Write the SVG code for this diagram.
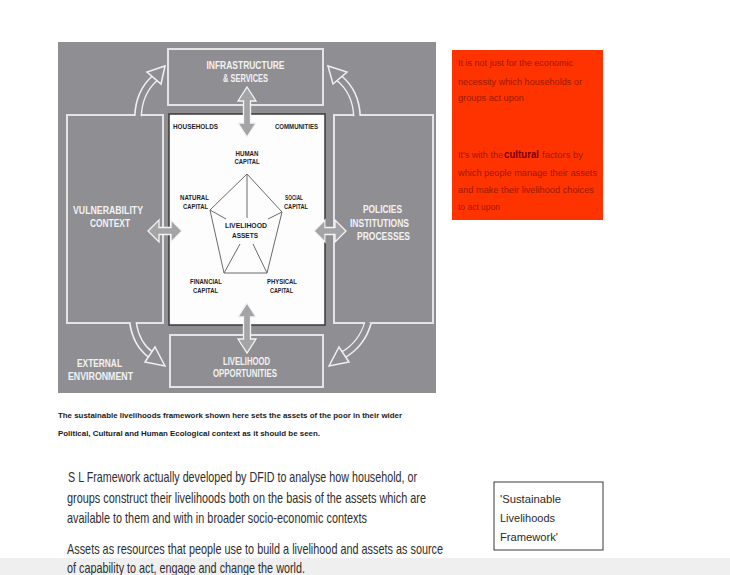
<svg xmlns="http://www.w3.org/2000/svg" width="730" height="575" viewBox="0 0 730 575">
  <style>
    .panel { fill: #8f8f93; }
    .box { fill: #8f8f93; stroke: #e4e4e6; stroke-width: 2; }
    .core { fill: #fdfdfd; stroke: #3a3a3a; stroke-width: 1.5; }
    .hd { font-family: "Liberation Sans", Arial, sans-serif; font-weight: bold; fill: #f2f2f2; font-size: 11px; text-anchor: middle; }
    .sm { font-family: "Liberation Sans", Arial, sans-serif; font-weight: bold; fill: #1e1e1e; font-size: 6.5px; text-anchor: middle; }
    .pent { fill: none; stroke: #6a6a6a; stroke-width: 1; }
    .dbl { fill: #a4a4a6; stroke: #f4f4f4; stroke-width: 1.3; stroke-linejoin: miter; }
    .shaftOut { fill: none; stroke: #f0f0f0; stroke-width: 8; }
    .shaftIn { fill: none; stroke: #8f8f93; stroke-width: 5; }
    .head { fill: #8f8f93; stroke: #f0f0f0; stroke-width: 1.5; stroke-linejoin: miter; }
    .note { font-family: "Liberation Sans", Arial, sans-serif; fill: #9c1a00; font-size: 8.5px; }
    .cap { font-family: "Liberation Sans", Arial, sans-serif; font-weight: bold; fill: #1a1a1a; font-size: 7.5px; }
    .body { font-family: "Liberation Sans", Arial, sans-serif; fill: #2e2e2e; font-size: 14px; }
    .tag { font-family: "Liberation Sans", Arial, sans-serif; fill: #2a2a2a; font-size: 11px; }
  </style>

  <rect width="730" height="575" fill="#ffffff"/>
  <!-- light band along the bottom edge -->
  <rect x="0" y="558" width="730" height="17" fill="#efefef"/>

  <!-- framework panel -->
  <g id="framework-panel">
    <rect class="panel" x="58" y="42" width="378" height="351"/>
  </g>

  <g id="infrastructure">
    <rect class="box" x="168" y="49" width="155" height="56"/>
    <text class="hd" x="245.5" y="69" textLength="78" lengthAdjust="spacingAndGlyphs">INFRASTRUCTURE</text>
    <text class="hd" x="245.5" y="82" textLength="45" lengthAdjust="spacingAndGlyphs">&amp; SERVICES</text>
  </g>

  <g id="vulnerability">
    <rect class="box" x="67" y="115" width="96" height="208"/>
    <text class="hd" x="108" y="214" textLength="70" lengthAdjust="spacingAndGlyphs">VULNERABILITY</text>
    <text class="hd" x="110" y="227" textLength="40" lengthAdjust="spacingAndGlyphs">CONTEXT</text>
  </g>

  <g id="policies">
    <rect class="box" x="334" y="115" width="99" height="208"/>
    <text class="hd" x="382.5" y="213" textLength="39" lengthAdjust="spacingAndGlyphs">POLICIES</text>
    <text class="hd" x="379.5" y="227" textLength="59" lengthAdjust="spacingAndGlyphs">INSTITUTIONS</text>
    <text class="hd" x="383.5" y="240" textLength="53" lengthAdjust="spacingAndGlyphs">PROCESSES</text>
  </g>

  <g id="opportunities">
    <rect class="box" x="170" y="335" width="153" height="52"/>
    <text class="hd" x="246.5" y="365" textLength="47" lengthAdjust="spacingAndGlyphs">LIVELIHOOD</text>
    <text class="hd" x="245" y="377" textLength="64" lengthAdjust="spacingAndGlyphs">OPPORTUNITIES</text>
  </g>

  <g id="external-environment">
    <text class="hd" x="99.5" y="367" textLength="45" lengthAdjust="spacingAndGlyphs">EXTERNAL</text>
    <text class="hd" x="100.5" y="380" textLength="65" lengthAdjust="spacingAndGlyphs">ENVIRONMENT</text>
  </g>

  <g id="livelihood-assets">
    <rect class="core" x="169" y="114" width="156" height="211"/>
    <text class="sm" x="195.5" y="128.5" textLength="45" lengthAdjust="spacingAndGlyphs">HOUSEHOLDS</text>
    <text class="sm" x="296.5" y="128.5" textLength="43" lengthAdjust="spacingAndGlyphs">COMMUNITIES</text>

    <polygon class="pent" points="247,174 282,212 267,273 224,273 210,210"/>
    <line class="pent" x1="247" y1="174" x2="247" y2="218"/>
    <line class="pent" x1="210" y1="210" x2="226" y2="219"/>
    <line class="pent" x1="282" y1="212" x2="268" y2="219"/>
    <line class="pent" x1="224" y1="273" x2="240" y2="244"/>
    <line class="pent" x1="267" y1="273" x2="253" y2="244"/>

    <text class="sm" x="247" y="155.5" textLength="23" lengthAdjust="spacingAndGlyphs">HUMAN</text>
    <text class="sm" x="247" y="164" textLength="25" lengthAdjust="spacingAndGlyphs">CAPITAL</text>
    <text class="sm" x="194.5" y="199.5" textLength="29" lengthAdjust="spacingAndGlyphs">NATURAL</text>
    <text class="sm" x="195.5" y="208.5" textLength="25" lengthAdjust="spacingAndGlyphs">CAPITAL</text>
    <text class="sm" x="294" y="199.5" textLength="18" lengthAdjust="spacingAndGlyphs">SOCIAL</text>
    <text class="sm" x="296" y="208.5" textLength="24" lengthAdjust="spacingAndGlyphs">CAPITAL</text>
    <text class="sm" x="246" y="227.5" font-size="7" textLength="42" lengthAdjust="spacingAndGlyphs">LIVELIHOOD</text>
    <text class="sm" x="245" y="237.5" font-size="7" textLength="26" lengthAdjust="spacingAndGlyphs">ASSETS</text>
    <text class="sm" x="206" y="283.5" textLength="32" lengthAdjust="spacingAndGlyphs">FINANCIAL</text>
    <text class="sm" x="205.5" y="292.5" textLength="25" lengthAdjust="spacingAndGlyphs">CAPITAL</text>
    <text class="sm" x="282" y="283.5" textLength="30" lengthAdjust="spacingAndGlyphs">PHYSICAL</text>
    <text class="sm" x="281.5" y="292.5" textLength="23" lengthAdjust="spacingAndGlyphs">CAPITAL</text>
  </g>

  <!-- connectors -->
  <g id="connectors">
    <!-- two-way arrows between the asset core and its surroundings -->
    <polygon class="dbl" points="247,87 256,101 250.5,101 250.5,123 256,123 247,137 238,123 243.5,123 243.5,101 238,101"/>
    <polygon class="dbl" points="247,303 256,317 250.5,317 250.5,339 256,339 247,353 238,339 243.5,339 243.5,317 238,317"/>
    <polygon class="dbl" points="148,231 159,220 159,227.5 171,227.5 171,220 182,231 171,242 171,234.5 159,234.5 159,242"/>
    <polygon class="dbl" points="314,231 325,220 325,227.5 335,227.5 335,220 346,231 335,242 335,234.5 325,234.5 325,242"/>

    <!-- curved arrows -->
    <g id="arrow-top-left">
      <path class="shaftOut" d="M138,116 Q139,92 155,78"/>
      <path class="shaftIn" d="M138,117 Q139,92 155,78"/>
      <polygon class="head" points="165,66 161,84 147,72"/>
    </g>
    <g id="arrow-top-right">
      <path class="shaftOut" d="M357,116 Q356,92 339,78"/>
      <path class="shaftIn" d="M357,117 Q356,92 339,78"/>
      <polygon class="head" points="328,66 333,84 347,72"/>
    </g>
    <g id="arrow-bottom-left">
      <path class="shaftOut" d="M133,323 Q136,344 151,355"/>
      <path class="shaftIn" d="M133,322 Q136,344 151,355"/>
      <polygon class="head" points="165,366 155,347 145,362"/>
    </g>
    <g id="arrow-bottom-right">
      <path class="shaftOut" d="M368,323 Q362,344 343,355"/>
      <path class="shaftIn" d="M368,322 Q362,344 343,355"/>
      <polygon class="head" points="329,366 339,347 349,362"/>
    </g>
  </g>

  <!-- caption under the framework -->
  <g id="caption">
    <text class="cap" x="58" y="418" textLength="344" lengthAdjust="spacingAndGlyphs">The sustainable livelihoods framework shown here sets the assets of the poor in their wider</text>
    <text class="cap" x="58" y="436" textLength="262" lengthAdjust="spacingAndGlyphs">Political, Cultural and Human Ecological context as it should be seen.</text>
  </g>

  <!-- red note -->
  <g id="cultural-note">
    <rect x="452" y="50" width="151" height="170" fill="#ff3300"/>
    <text class="note" x="458" y="66" textLength="115" lengthAdjust="spacingAndGlyphs">It is not just for the economic</text>
    <text class="note" x="458" y="85" textLength="124" lengthAdjust="spacingAndGlyphs">necessity which households or</text>
    <text class="note" x="458" y="101" textLength="66" lengthAdjust="spacingAndGlyphs">groups act upon</text>
    <text class="note" x="458" y="158" textLength="45" lengthAdjust="spacingAndGlyphs">It's with the</text>
    <text x="504" y="158" font-family="Liberation Sans, Arial, sans-serif" font-weight="bold" font-size="11.5" fill="#7a0000" textLength="35" lengthAdjust="spacingAndGlyphs">cultural</text>
    <text class="note" x="542" y="158" textLength="41" lengthAdjust="spacingAndGlyphs">factors by</text>
    <text class="note" x="458" y="176" textLength="139" lengthAdjust="spacingAndGlyphs">which people manage their assets</text>
    <text class="note" x="458" y="193" textLength="136" lengthAdjust="spacingAndGlyphs">and make their livelihood choices</text>
    <text class="note" x="458" y="210" textLength="42" lengthAdjust="spacingAndGlyphs">to act upon</text>
  </g>

  <!-- explanatory text, set in a horizontally condensed face -->
  <g id="explanation" transform="scale(0.78,1)">
    <text class="body" x="87.2" y="482" textLength="447.4" lengthAdjust="spacingAndGlyphs">S L Framework actually developed by DFID to analyse how household, or</text>
    <text class="body" x="85.9" y="503" textLength="460.3" lengthAdjust="spacingAndGlyphs">groups construct their livelihoods both on the basis of the  assets which are</text>
    <text class="body" x="85.9" y="523" textLength="384.6" lengthAdjust="spacingAndGlyphs">available to them and with in broader socio-economic contexts</text>
    <text class="body" x="85.9" y="554" textLength="482.1" lengthAdjust="spacingAndGlyphs">Assets as resources that people use to build a livelihood and assets as source</text>
    <text class="body" x="85.9" y="573" textLength="305.1" lengthAdjust="spacingAndGlyphs">of capability to act, engage and change the world.</text>
  </g>

  <!-- title tag -->
  <g id="title-tag">
    <rect x="494" y="482" width="109" height="68" fill="#ffffff" stroke="#3a3a3a" stroke-width="1"/>
    <text class="tag" x="500" y="503" textLength="61" lengthAdjust="spacingAndGlyphs">'Sustainable</text>
    <text class="tag" x="500" y="522" textLength="55" lengthAdjust="spacingAndGlyphs">Livelihoods</text>
    <text class="tag" x="500" y="541" textLength="58" lengthAdjust="spacingAndGlyphs">Framework'</text>
  </g>
</svg>
